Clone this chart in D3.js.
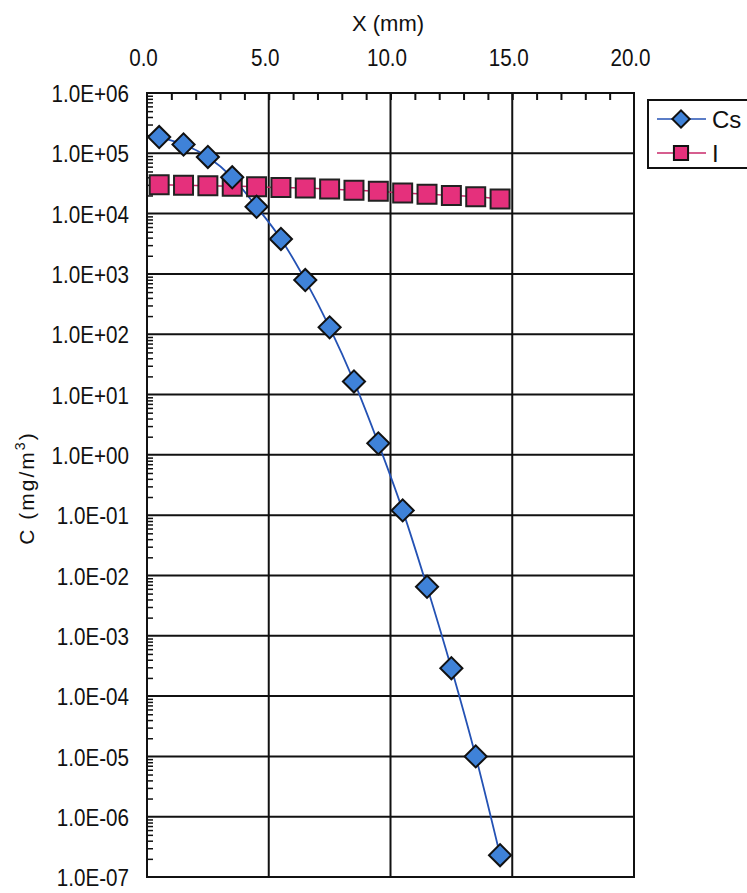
<!DOCTYPE html>
<html>
<head>
<meta charset="utf-8">
<script src="https://cdn.jsdelivr.net/npm/d3@7"></script>
<style>
  body { margin: 0; background: #fff; }
  svg text { font-family: "Liberation Sans", Arial, sans-serif; fill: #111; }
</style>
</head>
<body>
<div id="chart"></div>
<script>
// Concentration profiles of Cs and I against depth X

const xValues = [0.5, 1.5, 2.5, 3.5, 4.5, 5.5, 6.5, 7.5, 8.5, 9.5, 10.5, 11.5, 12.5, 13.5, 14.5];
const csValues = [1.86e5, 1.4e5, 8.7e4, 4.0e4, 1.3e4, 3.8e3, 790, 130, 16.5, 1.55, 0.12, 6.5e-3, 2.9e-4, 1.0e-5, 2.3e-7];
const iValues = [3.0e4, 2.95e4, 2.9e4, 2.85e4, 2.8e4, 2.7e4, 2.65e4, 2.55e4, 2.45e4, 2.35e4, 2.2e4, 2.1e4, 2.0e4, 1.9e4, 1.75e4];

const xTicks = [0, 5, 10, 15, 20];
const xMinorTicks = d3.range(1, 20);
const yExponents = d3.range(-7, 7);

const W = 747, H = 893;
const margin = { top: 93, right: 113, bottom: 16, left: 147 };
const squeeze = 0.86; // tick labels in the original are a narrow face

const svg = d3.select("#chart").append("svg")
  .attr("width", W)
  .attr("height", H);

svg.append("rect").attr("width", W).attr("height", H).attr("fill", "#fff");

const x = d3.scaleLinear()
  .domain([0, 20])
  .range([margin.left, W - margin.right]);

const y = d3.scaleLog()
  .domain([1e-7, 1e6])
  .range([H - margin.bottom, margin.top]);

const yMajor = yExponents.map(e => Math.pow(10, e));
const yMinor = [];
yExponents.slice(0, -1).forEach(e => {
  for (let k = 2; k <= 9; k++) yMinor.push(k * Math.pow(10, e));
});

function fmtE(v) {
  const e = Math.round(Math.log10(v));
  return "1.0E" + (e < 0 ? "-" : "+") + String(Math.abs(e)).padStart(2, "0");
}

// Grid lines
svg.append("g")
  .selectAll("line")
  .data(yMajor.slice(1, -1))
  .enter().append("line")
  .attr("x1", x(0)).attr("x2", x(20))
  .attr("y1", d => y(d)).attr("y2", d => y(d))
  .attr("stroke", "#111").attr("stroke-width", 2);

svg.append("g")
  .selectAll("line")
  .data(xTicks.slice(1, -1))
  .enter().append("line")
  .attr("x1", d => x(d)).attr("x2", d => x(d))
  .attr("y1", y(1e6)).attr("y2", y(1e-7))
  .attr("stroke", "#111").attr("stroke-width", 2);

// Plot frame
svg.append("rect")
  .attr("x", x(0)).attr("y", y(1e6))
  .attr("width", x(20) - x(0))
  .attr("height", y(1e-7) - y(1e6))
  .attr("fill", "none")
  .attr("stroke", "#111")
  .attr("stroke-width", 2);

// Top axis with labels
const topAxis = svg.append("g")
  .attr("transform", `translate(0,${y(1e6)})`)
  .call(d3.axisTop(x).tickValues(xTicks).tickSize(0).tickPadding(27).tickFormat(d3.format(".1f")));
topAxis.select(".domain").remove();
topAxis.selectAll("text")
  .attr("x", -4 / squeeze)
  .attr("transform", `scale(${squeeze},1)`)
  .style("font-size", "24px");

// Top minor ticks pointing inside
const topMinor = svg.append("g")
  .attr("transform", `translate(0,${y(1e6)})`)
  .call(d3.axisBottom(x).tickValues(xMinorTicks).tickSize(7).tickFormat(""));
topMinor.select(".domain").remove();
topMinor.selectAll("line").attr("stroke", "#111").attr("stroke-width", 2);

// Left axis with labels
const leftAxis = svg.append("g")
  .attr("transform", `translate(${x(0)},0)`)
  .call(d3.axisLeft(y).tickValues(yMajor).tickSize(0).tickFormat(fmtE));
leftAxis.select(".domain").remove();
leftAxis.selectAll("text")
  .attr("x", -18 / squeeze)
  .attr("dy", "0.36em")
  .attr("transform", `scale(${squeeze},1)`)
  .style("font-size", "24px");

// Left minor ticks pointing inside
const leftMinor = svg.append("g")
  .attr("transform", `translate(${x(0)},0)`)
  .call(d3.axisRight(y).tickValues(yMinor).tickSize(6).tickFormat(""));
leftMinor.select(".domain").remove();
leftMinor.selectAll("line").attr("stroke", "#111").attr("stroke-width", 1.5);

// Axis titles
svg.append("text")
  .attr("x", 388)
  .attr("y", 31)
  .attr("text-anchor", "middle")
  .style("font-size", "22px")
  .text("X (mm)");

const yTitle = svg.append("text")
  .attr("transform", `translate(34,488) rotate(-90)`)
  .attr("text-anchor", "middle")
  .style("font-size", "21px")
  .style("letter-spacing", "2px");
yTitle.append("tspan").text("C (mg/m");
yTitle.append("tspan").attr("dy", -9).style("font-size", "14px").text("3");
yTitle.append("tspan").attr("dy", 9).text(")");

// Series
const csData = xValues.map((d, i) => ({ x: d, v: csValues[i] }));
const iData = xValues.map((d, i) => ({ x: d, v: iValues[i] }));

const line = d3.line().x(d => x(d.x)).y(d => y(d.v)).curve(d3.curveMonotoneX);

svg.append("path")
  .datum(iData)
  .attr("fill", "none")
  .attr("stroke", "#c8286a")
  .attr("stroke-width", 1.5)
  .attr("d", line);

svg.append("path")
  .datum(csData)
  .attr("fill", "none")
  .attr("stroke", "#2452b4")
  .attr("stroke-width", 1.8)
  .attr("d", line);

svg.append("g")
  .selectAll("path")
  .data(iData)
  .enter().append("path")
  .attr("transform", d => `translate(${x(d.x)},${y(d.v)})`)
  .attr("d", d3.symbol().type(d3.symbolSquare).size(360))
  .attr("fill", "#e5307c")
  .attr("stroke", "#222")
  .attr("stroke-width", 2);

svg.append("g")
  .selectAll("path")
  .data(csData)
  .enter().append("path")
  .attr("transform", d => `translate(${x(d.x)},${y(d.v)}) rotate(45)`)
  .attr("d", d3.symbol().type(d3.symbolSquare).size(245))
  .attr("fill", "#3f82d8")
  .attr("stroke", "#111")
  .attr("stroke-width", 2);

// Legend
const legend = svg.append("g").attr("transform", "translate(648,100)");
legend.append("rect")
  .attr("width", 120).attr("height", 68)
  .attr("fill", "#fff")
  .attr("stroke", "#111").attr("stroke-width", 2);

const legendItems = [
  { name: "Cs", color: "#2452b4", fill: "#3f82d8", shape: "diamond", y: 19 },
  { name: "I", color: "#c8286a", fill: "#e5307c", shape: "square", y: 53 }
];

legendItems.forEach(item => {
  const g = legend.append("g").attr("transform", `translate(0,${item.y})`);
  g.append("line")
    .attr("x1", 9).attr("x2", 58)
    .attr("stroke", item.color).attr("stroke-width", 1.5);
  g.append("path")
    .attr("transform", `translate(33,0)${item.shape === "diamond" ? " rotate(45)" : ""}`)
    .attr("d", d3.symbol().type(d3.symbolSquare).size(item.shape === "diamond" ? 150 : 200))
    .attr("fill", item.fill)
    .attr("stroke", "#111").attr("stroke-width", 2);
  g.append("text")
    .attr("x", 64)
    .attr("y", 9)
    .style("font-size", "24px")
    .text(item.name);
});
</script>
</body>
</html>
